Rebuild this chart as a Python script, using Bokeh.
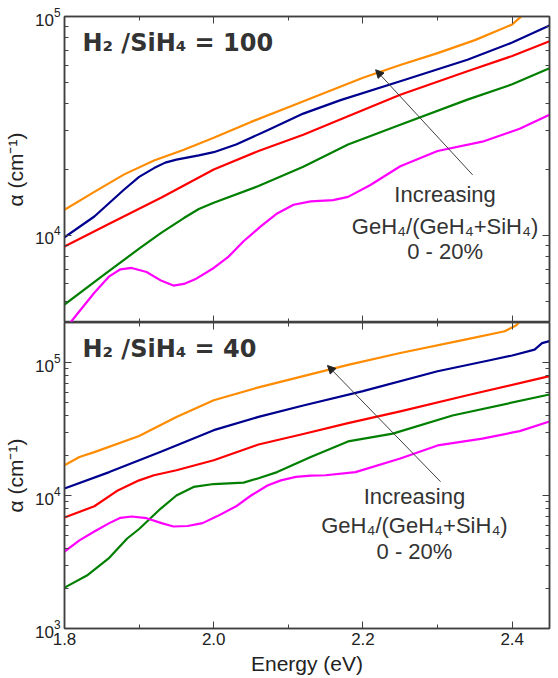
from bokeh.plotting import figure
from bokeh.models import (Range1d, LogAxis, LinearAxis, FixedTicker, Label, Arrow, NormalHead,
                          LogTickFormatter, PrintfTickFormatter, CustomJSTickFormatter)
from bokeh.layouts import column
from bokeh.embed import file_html
from bokeh.resources import INLINE

# ---------------- data ----------------
x_ticks = [1.8, 2.0, 2.2, 2.4]
x_minor = [1.9, 2.1, 2.3]
y_ticks = [1e3, 1e4, 1e5]
y_minor = [2e3, 3e3, 4e3, 5e3, 6e3, 7e3, 8e3, 9e3,
           2e4, 3e4, 4e4, 5e4, 6e4, 7e4, 8e4, 9e4, 2e5]

# Panel 1: H2/SiH4 = 100
t_orange_x = [1.80, 1.84, 1.88, 1.92, 1.96, 2.00, 2.05, 2.10, 2.15, 2.20, 2.25, 2.30, 2.35, 2.40, 2.415, 2.43]
t_orange_y = [1.31e4, 1.58e4, 1.9e4, 2.2e4, 2.46e4, 2.79e4, 3.3e4, 3.85e4, 4.5e4, 5.25e4, 6.0e4, 6.8e4, 7.8e4, 9.2e4, 1.02e5, 1.15e5]
t_blue_x = [1.80, 1.84, 1.88, 1.90, 1.92, 1.935, 1.95, 1.98, 2.00, 2.03, 2.07, 2.12, 2.17, 2.25, 2.34, 2.40, 2.45]
t_blue_y = [9.8e3, 1.22e4, 1.62e4, 1.85e4, 2.03e4, 2.15e4, 2.22e4, 2.32e4, 2.4e4, 2.6e4, 3.0e4, 3.6e4, 4.15e4, 5.06e4, 6.34e4, 7.6e4, 9.1e4]
t_red_x = [1.80, 1.86, 1.93, 2.00, 2.06, 2.12, 2.18, 2.25, 2.34, 2.40, 2.45]
t_red_y = [8.9e3, 1.13e4, 1.49e4, 2.0e4, 2.43e4, 2.88e4, 3.5e4, 4.39e4, 5.62e4, 6.6e4, 7.7e4]
t_green_x = [1.80, 1.85, 1.90, 1.93, 1.96, 1.98, 2.00, 2.06, 2.12, 2.18, 2.25, 2.34, 2.40, 2.45]
t_green_y = [4.83e3, 6.5e3, 8.7e3, 1.03e4, 1.2e4, 1.32e4, 1.41e4, 1.68e4, 2.06e4, 2.6e4, 3.2e4, 4.17e4, 4.9e4, 5.8e4]
t_magenta_x = [1.80, 1.82, 1.84, 1.86, 1.875, 1.89, 1.91, 1.93, 1.946, 1.96, 1.975, 2.00, 2.02, 2.04, 2.063,
               2.085, 2.107, 2.13, 2.16, 2.18, 2.21, 2.25, 2.30, 2.36, 2.41, 2.45]
t_magenta_y = [3.7e3, 4.5e3, 5.47e3, 6.5e3, 7.0e3, 7.1e3, 6.8e3, 6.2e3, 5.9e3, 6.0e3, 6.3e3, 7.1e3, 8.0e3, 9.4e3, 1.1e4,
               1.26e4, 1.38e4, 1.43e4, 1.45e4, 1.5e4, 1.7e4, 2.07e4, 2.43e4, 2.68e4, 3.07e4, 3.56e4]

# Panel 2: H2/SiH4 = 40
b_orange_x = [1.80, 1.82, 1.84, 1.90, 1.95, 2.00, 2.06, 2.12, 2.18, 2.25, 2.34, 2.39, 2.405, 2.42]
b_orange_y = [1.69e4, 1.95e4, 2.12e4, 2.8e4, 3.9e4, 5.2e4, 6.5e4, 7.9e4, 9.6e4, 1.18e5, 1.5e5, 1.72e5, 1.9e5, 2.3e5]
b_blue_x = [1.80, 1.86, 1.93, 2.00, 2.06, 2.12, 2.20, 2.30, 2.37, 2.40, 2.43, 2.44, 2.45]
b_blue_y = [1.13e4, 1.5e4, 2.14e4, 3.1e4, 3.9e4, 4.75e4, 6.1e4, 8.6e4, 1.04e5, 1.13e5, 1.25e5, 1.4e5, 1.45e5]
b_red_x = [1.80, 1.84, 1.87, 1.90, 1.92, 1.95, 2.00, 2.06, 2.12, 2.18, 2.25, 2.34, 2.45]
b_red_y = [6.84e3, 8.3e3, 1.08e4, 1.3e4, 1.42e4, 1.55e4, 1.84e4, 2.42e4, 2.9e4, 3.5e4, 4.29e4, 5.68e4, 7.9e4]
b_green_x = [1.80, 1.83, 1.86, 1.884, 1.90, 1.929, 1.95, 1.973, 2.00, 2.04, 2.06, 2.085, 2.13, 2.18, 2.24, 2.32, 2.45]
b_green_y = [2.03e3, 2.5e3, 3.4e3, 4.75e3, 5.6e3, 7.98e3, 1.0e4, 1.16e4, 1.22e4, 1.25e4, 1.35e4, 1.5e4, 1.95e4, 2.55e4, 2.92e4, 4.0e4, 5.75e4]
b_magenta_x = [1.80, 1.82, 1.84, 1.86, 1.875, 1.89, 1.91, 1.93, 1.946, 1.965, 1.985, 2.005, 2.03, 2.05, 2.072,
               2.09, 2.11, 2.13, 2.15, 2.19, 2.25, 2.30, 2.36, 2.41, 2.45]
b_magenta_y = [3.79e3, 4.6e3, 5.36e3, 6.2e3, 6.8e3, 6.95e3, 6.75e3, 6.2e3, 5.85e3, 5.9e3, 6.2e3, 7.0e3, 8.3e3, 1.0e4, 1.19e4,
               1.3e4, 1.38e4, 1.41e4, 1.42e4, 1.5e4, 1.9e4, 2.38e4, 2.68e4, 3.05e4, 3.6e4]

series_colors = ["#FF8C00", "#00008F", "#FF0000", "#007F00", "#FF00FF"]

FONT = "Liberation Sans"
AX = "#404040"
TXT = "#333333"

xr = Range1d(1.8, 2.45)


def style_axis(ax, labels, size="17px"):
    ax.major_tick_in = 7
    ax.major_tick_out = 0
    ax.minor_tick_in = 4
    ax.minor_tick_out = 0
    ax.axis_line_color = AX
    ax.axis_line_width = 1.5
    ax.major_tick_line_color = AX
    ax.minor_tick_line_color = AX
    if labels:
        ax.major_label_text_font = FONT
        ax.major_label_text_font_size = size
        ax.major_label_text_color = "#222222"
        ax.major_label_standoff = 4
    else:
        ax.formatter = CustomJSTickFormatter(code="return ''")
        ax.major_label_text_font_size = "1px"
        ax.major_label_standoff = 0


def yticker():
    return FixedTicker(ticks=y_ticks, minor_ticks=y_minor)


def xticker():
    return FixedTicker(ticks=x_ticks, minor_ticks=x_minor)


def make_panel(yr, height, border_top, border_bottom, x_labels):
    p = figure(width=551, height=height, x_range=xr, y_range=yr, y_axis_type="log",
               output_backend="svg", toolbar_location=None,
               min_border_left=64, min_border_right=2,
               min_border_top=border_top, min_border_bottom=border_bottom)
    p.xgrid.visible = False
    p.ygrid.visible = False
    p.outline_line_color = AX
    p.outline_line_width = 1.5
    p.background_fill_color = "white"
    p.border_fill_color = "white"

    xa = p.xaxis[0]
    xa.ticker = xticker()
    style_axis(xa, x_labels)
    if x_labels:
        xa.formatter = PrintfTickFormatter(format="%.1f")
        xa.axis_label = "Energy (eV)"
        xa.axis_label_text_font = FONT
        xa.axis_label_text_font_size = "21px"
        xa.axis_label_text_font_style = "normal"
        xa.axis_label_text_color = "#222222"
        xa.axis_label_standoff = 4

    ya = p.yaxis[0]
    ya.ticker = yticker()
    ya.formatter = LogTickFormatter()
    style_axis(ya, True, "17px")
    ya.axis_label = "α (cm⁻¹)"
    ya.axis_label_text_font = FONT
    ya.axis_label_text_font_size = "21px"
    ya.axis_label_text_font_style = "normal"
    ya.axis_label_text_color = "#222222"
    ya.axis_label_standoff = 5

    top = LinearAxis(ticker=xticker())
    style_axis(top, False)
    p.add_layout(top, "above")
    right = LogAxis(ticker=yticker())
    style_axis(right, False)
    p.add_layout(right, "right")
    return p


p1 = make_panel(Range1d(4e3, 1e5), 322, 16, 0, False)
p2 = make_panel(Range1d(1e3, 2e5), 355, 0, 49, True)

top_series = [(t_orange_x, t_orange_y), (t_blue_x, t_blue_y), (t_red_x, t_red_y),
              (t_green_x, t_green_y), (t_magenta_x, t_magenta_y)]
bot_series = [(b_orange_x, b_orange_y), (b_blue_x, b_blue_y), (b_red_x, b_red_y),
              (b_green_x, b_green_y), (b_magenta_x, b_magenta_y)]

for (xs, ys), c in zip(top_series, series_colors):
    p1.line(xs, ys, line_color=c, line_width=2.2, line_join="round")
for (xs, ys), c in zip(bot_series, series_colors):
    p2.line(xs, ys, line_color=c, line_width=2.2, line_join="round")

# titles
TFONT = "DejaVu Sans"
p1.add_layout(Label(x=1.824, y=7.6e4, text="H₂ /SiH₄ = 100", text_font=TFONT,
                    text_font_size="24px", text_font_style="bold", text_color=TXT,
                    text_baseline="middle"))
p2.add_layout(Label(x=1.824, y=1.27e5, text="H₂ /SiH₄ = 40", text_font=TFONT,
                    text_font_size="24px", text_font_style="bold", text_color=TXT,
                    text_baseline="middle"))

ann_lines = ["Increasing", "GeH₄/(GeH₄+SiH₄)", "0 - 20%"]
for p, xc, ys in [(p1, 2.31, [1.53e4, 1.10e4, 8.44e3]), (p2, 2.269, [9.8e3, 5.94e3, 3.8e3])]:
    for t, yy in zip(ann_lines, ys):
        p.add_layout(Label(x=xc, y=yy, text=t, text_font=FONT, text_font_size="22px",
                           text_color=TXT, text_align="center", text_baseline="middle"))

p1.add_layout(Arrow(end=NormalHead(size=8, fill_color="#222222", line_color="#222222"),
                    x_start=2.347, y_start=1.89e4, x_end=2.217, y_end=5.71e4,
                    line_color="#404040", line_width=1))
p2.add_layout(Arrow(end=NormalHead(size=8, fill_color="#222222", line_color="#222222"),
                    x_start=2.304, y_start=1.27e4, x_end=2.1525, y_end=9.5e4,
                    line_color="#404040", line_width=1))

layout = column(p1, p2, spacing=0)
open("out.html", "w").write(file_html(layout, INLINE))
